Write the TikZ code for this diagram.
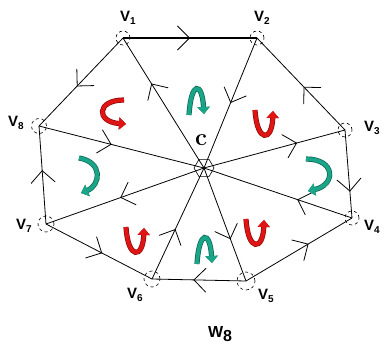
\documentclass[tikz,border=0pt]{standalone}
\usepackage{fontspec}
\newfontfamily\labelfont{Liberation Sans}
\usetikzlibrary{arrows.meta,decorations.markings,shapes.geometric}

\definecolor{turnred}{RGB}{225,20,20}
\definecolor{turnteal}{RGB}{25,165,135}

\newcommand\vname[1]{V\raisebox{-3.5pt}{\fontsize{10}{10}\selectfont #1}}

\tikzset{
  vert/.style={circle, draw, dashed, inner sep=0pt, minimum size=14pt, line width=0.6pt},
  vlabel/.style={font=\labelfont\bfseries\fontsize{15}{15}\selectfont, inner sep=0pt},
  flowat/.style={postaction={decorate, decoration={markings,
      mark=at position #1 with {\arrow{Straight Barb[angle=90:17pt, line width=0.8pt]}}}}},
  turn/.style={line width=3.8pt, draw=#1, preaction={draw=#1!60!black, line width=5.2pt},
      -{Triangle[length=7pt, width=12pt]}},
}

\begin{document}
\begin{tikzpicture}[x=1pt, y=-1pt]
  \useasboundingbox (0,0) rectangle (382,345);

  % vertices of the wheel
  \node[vert] (V1) at (123,38) {};
  \node[vert] (V2) at (257,38) {};
  \node[vert] (V3) at (345,130) {};
  \node[vert] (V4) at (352,218) {};
  \node[vert, minimum size=18pt] (V5) at (246,281) {};
  \node[vert, minimum size=16pt] (V6) at (152,279) {};
  \node[vert, minimum size=16pt] (V7) at (46,224) {};
  \node[vert, minimum size=15pt] (V8) at (39,126) {};
  \node[regular polygon, regular polygon sides=6, draw, line width=0.6pt,
        minimum size=20pt, inner sep=0pt] (c) at (204,168) {};

  % labels
  \node[vlabel] (l1) at (128,18) {\vname{1}};
  \node[vlabel] (l2) at (262,18) {\vname{2}};
  \node[vlabel] (l3) at (372,128) {\vname{3}};
  \node[vlabel] (l4) at (372,227) {\vname{4}};
  \node[vlabel] (l5) at (266,296) {\vname{5}};
  \node[vlabel] (l6) at (135,295) {\vname{6}};
  \node[vlabel] (l7) at (24,226) {\vname{7}};
  \node[vlabel] (l8) at (16,123) {\vname{8}};
  \node[font=\fontsize{24}{24}\selectfont\bfseries, inner sep=0pt] (lc) at (201,140) {c};
  \node[font=\labelfont\bfseries\fontsize{16}{16}\selectfont, inner sep=0pt] (w8) at (220,334)
    {W\raisebox{-4pt}{8}};

  % rim
  \path[line width=0.8pt]
  (V1.center) edge[line width=1.8pt, flowat=0.5] (V2.center)
  (V3.center) edge[flowat=0.47] (V2.center)
  (V3.center) edge[flowat=0.7] (V4.center)
  (V5.center) edge[flowat=0.59] (V4.center)
  (V5.center) edge[flowat=0.56] (V6.center)
  (V7.center) edge[flowat=0.53] (V6.center)
  (V7.center) edge[flowat=0.55] (V8.center)
  (V1.center) edge[flowat=0.55] (V8.center)
  ;
  % spokes
  \path[line width=0.8pt]
  (c.center) edge[flowat=0.65] (V1.center)
  (V2.center) edge[flowat=0.5] (c.center)
  (c.center) edge[flowat=0.66] (V3.center)
  (V4.center) edge[flowat=0.37] (c.center)
  (c.center) edge[flowat=0.63] (V5.center)
  (V6.center) edge[flowat=0.45] (c.center)
  (c.center) edge[flowat=0.53] (V7.center)
  (V8.center) edge[flowat=0.44] (c.center)
  ;

  % turning arrows in the faces
  \draw[turn=turnred, shift={(113,112)}] (11,-12) .. controls (-17,-12) and (-17,10) .. (13,12);
  \draw[turn=turnteal, shift={(197,101)}] (-8,14) .. controls (-6,-20) and (5,-20) .. (7,13);
  \draw[turn=turnred, shift={(264,123)}] (-9,-13) .. controls (-7,20) and (8,19) .. (9,-12);
  \draw[turn=turnteal, shift={(318,175)}] (-12,-16) .. controls (18,-16) and (18,10) .. (-10,16);
  \draw[turn=turnred, shift={(255,232)}] (-9,-13) .. controls (-7,20) and (8,19) .. (9,-12);
  \draw[turn=turnteal, shift={(205,250)}] (-8,14) .. controls (-6,-20) and (5,-20) .. (7,13);
  \draw[turn=turnred, shift={(135,240)}] (-9,-13) .. controls (-7,20) and (8,19) .. (9,-12);
  \draw[turn=turnteal, shift={(87,176)}] (-8,-18) .. controls (16,-14) and (14,9) .. (-6,17);
\end{tikzpicture}
\end{document}
